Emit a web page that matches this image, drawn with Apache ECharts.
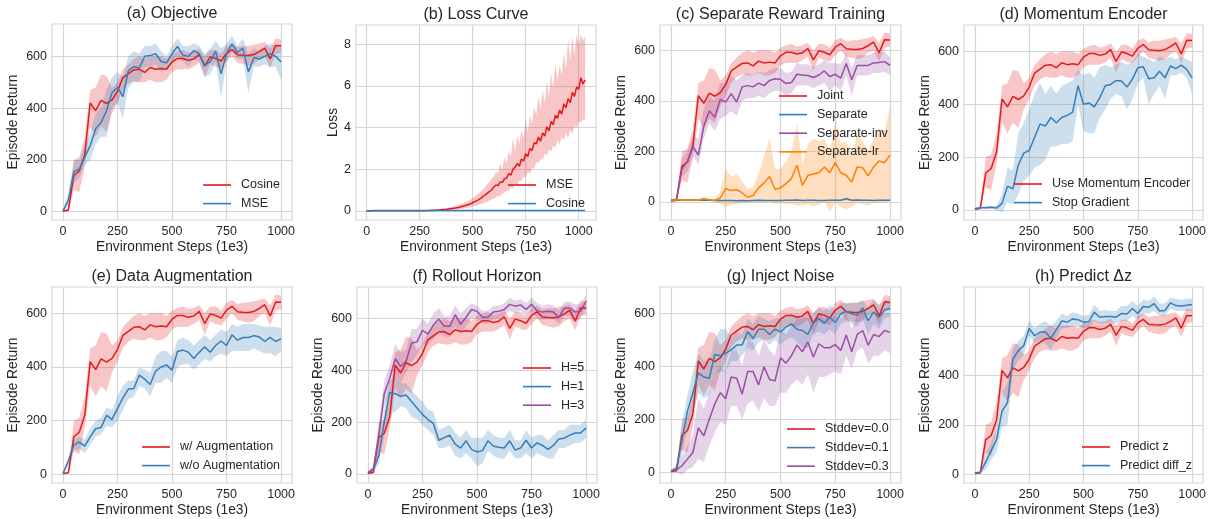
<!DOCTYPE html>
<html>
<head>
<meta charset="utf-8">
<script src="https://cdn.jsdelivr.net/npm/echarts@6/dist/echarts.min.js"></script>
<style>
html, body { margin: 0; padding: 0; background: #fff; }
#container { width: 1214px; height: 519px; }
</style>
</head>
<body>
<div id="container"></div>
<script>
// x positions (environment steps, 1e3)
var steps = [0,25,50,75,100,125,150,175,200,225,250,275,300,325,350,375,400,425,450,475,500,
             525,550,575,600,625,650,675,700,725,750,775,800,825,850,875,900,925,950,975,1000];
var stepTicks = [0, 250, 500, 750, 1000];
var returnTicks = [0, 200, 400, 600];
var lossTicks = [0, 2, 4, 6, 8];

// the main method (red), reused in every return panel
var joint   = [3,6,140,157,220,420,390,430,418,432,465,518,533,548,550,538,557,550,553,550,578,592,592,585,590,607,562,598,592,582,612,626,606,604,603,607,618,632,590,642,641];
var jointLo = [0,2,85,75,175,330,290,330,310,380,420,470,495,505,500,500,510,500,500,510,540,550,550,550,560,575,520,570,560,555,580,600,575,570,565,570,590,600,555,610,615];
var jointHi = [6,12,200,210,290,470,480,530,525,480,500,550,570,590,600,590,600,600,600,590,610,620,625,615,620,630,600,625,625,610,640,650,635,640,640,645,650,655,630,670,665];

// (a) MSE objective
var mseRet   = [3,45,155,165,210,255,320,345,390,460,480,445,545,560,555,600,603,610,580,575,610,638,605,600,622,610,565,580,620,533,610,648,615,632,540,595,590,600,610,600,578];
var mseRetLo = [0,20,110,130,180,200,260,290,290,400,420,360,480,500,500,560,560,570,540,550,580,600,580,560,590,580,520,530,580,440,580,620,590,590,460,560,560,570,560,560,510];
var mseRetHi = [6,70,200,200,260,300,380,400,470,520,540,520,600,620,610,640,640,650,620,600,640,670,640,640,650,640,610,630,660,630,650,680,640,670,610,630,620,640,650,640,640];

// (b) loss curves
var lossX = [0,20,40,60,80,100,120,140,160,180,200,220,240,260,280,300,320,340,360,380,400,
             410,420,430,440,450,460,470,480,490,500,510,520,530,540,550,560,570,580,590,600,
             610,620,630,640,650,660,670,680,690,700,710,720,730,740,750,760,770,780,790,800,
             810,820,830,840,850,860,870,880,890,900,910,920,930,940,950,960,970,980,990,1000,
             1010,1020,1030];
var mseLoss = [0,0,0.01,0.01,0.01,0.01,0.01,0.01,0.01,0.01,0.01,0.01,0.02,0.02,0.02,0.03,0.04,0.05,0.07,0.09,0.12,
               0.13,0.15,0.17,0.19,0.22,0.25,0.28,0.31,0.35,0.40,0.45,0.50,0.56,0.62,0.72,0.78,0.86,0.95,1.02,1.15,
               1.25,1.22,1.4,1.38,1.55,1.58,1.8,1.72,2.0,2.1,2.28,2.15,2.5,2.4,2.75,2.62,3.0,2.9,3.28,3.22,
               3.55,3.35,3.75,3.6,4.05,3.85,4.3,4.15,4.6,4.45,4.85,4.65,5.15,4.95,5.4,5.2,5.7,5.5,5.95,5.85,
               6.4,6.1,6.3];
var mseLossLo = [0,0,0,0,0,0,0,0,0,0,0,0,0.01,0.01,0.01,0.01,0.02,0.02,0.03,0.04,0.05,
                 0.06,0.07,0.08,0.1,0.11,0.13,0.15,0.17,0.19,0.22,0.24,0.27,0.3,0.34,0.37,0.41,0.45,0.5,0.55,0.6,
                 0.65,0.72,0.74,0.85,0.88,0.98,0.96,1.12,1.1,1.3,1.3,1.45,1.45,1.65,1.62,1.88,1.8,2.05,2.05,2.35,
                 2.3,2.5,2.45,2.75,2.65,2.95,2.85,3.15,3.05,3.4,3.2,3.55,3.4,3.75,3.5,3.9,3.7,4.1,3.95,4.3,
                 4.25,4.4,4.4];
var mseLossHi = [0,0,0.01,0.02,0.02,0.02,0.02,0.02,0.02,0.02,0.02,0.03,0.03,0.04,0.05,0.06,0.07,0.09,0.12,0.15,0.2,
                 0.22,0.25,0.28,0.32,0.36,0.4,0.45,0.5,0.56,0.62,0.7,0.78,0.85,0.95,1.05,1.15,1.3,1.4,1.55,1.65,
                 1.9,1.8,2.3,2.0,2.6,2.3,2.9,2.6,3.5,2.9,3.6,3.2,3.9,3.5,4.4,3.8,4.6,4.2,5.0,4.6,
                 5.5,4.9,5.8,5.2,6.2,5.5,6.6,5.9,7.1,6.3,7.0,6.5,7.6,6.8,8.3,7.2,8.4,7.5,8.5,8.0,
                 8.5,8.2,8.4];
var cosLossX = [0,30,60,100,200,300,400,500,600,700,800,900,1000,1030];
var cosLoss  = [0,0.03,0.03,0.03,0.03,0.03,0.03,0.03,0.03,0.03,0.03,0.03,0.03,0.03];

// (c) separate reward training
var sep     = [5,6,7,7,7,6,7,6,5,5,5,5,4,5,4,5,6,5,5,5,5,6,6,7,5,6,6,5,5,6,6,6,12,6,7,6,6,5,6,6,6];
var sepLo   = [3,4,4,4,4,3,4,3,3,3,3,3,2,3,2,3,4,3,3,3,3,4,4,4,3,4,4,3,3,4,4,4,6,4,4,4,4,3,4,4,4];
var sepHi   = [7,8,9,9,9,8,9,8,7,7,7,7,6,7,6,7,8,7,7,7,7,8,8,9,7,8,8,7,7,8,8,8,18,8,9,8,8,7,8,8,8];
var sepInv   = [5,10,130,160,218,185,300,360,335,405,395,428,395,455,460,455,470,460,480,487,485,468,472,505,502,500,492,502,518,496,505,490,548,483,540,540,540,550,552,555,540];
var sepInvLo = [0,5,100,120,180,150,250,310,280,330,340,360,340,400,410,410,420,410,430,440,440,420,430,460,460,460,450,460,470,440,460,440,500,420,500,500,500,510,510,515,500];
var sepInvHi = [8,15,170,200,260,250,370,420,400,470,470,500,480,500,510,500,515,510,520,530,530,510,515,550,545,545,535,545,560,550,550,545,590,530,580,580,580,590,590,595,570];
var sepLr   = [5,8,8,7,7,6,12,8,5,15,52,45,48,35,18,25,55,75,100,50,55,72,92,145,65,105,110,115,138,115,155,115,105,78,138,135,103,138,162,155,185];
var sepLrLo = [3,5,5,4,4,3,5,4,0,-10,-20,-12,-10,-5,-5,-3,-5,-5,0,-10,-5,-10,-10,-15,-15,-10,-20,-10,0,-40,-5,-20,-30,-20,-5,-10,-15,-5,-5,-5,0];
var sepLrHi = [7,12,12,10,10,10,20,12,10,40,130,100,110,80,50,60,110,180,250,130,130,160,200,310,150,230,250,240,250,200,320,230,240,180,270,240,200,250,290,280,375];

// (d) stop gradient
var stopGrad   = [5,8,8,10,7,25,90,80,170,215,225,275,325,318,350,330,350,358,370,470,400,405,390,425,470,475,490,488,465,495,538,542,497,500,525,500,545,535,548,532,500];
var stopGradLo = [0,3,3,5,0,-10,30,20,60,110,130,160,170,190,240,240,250,250,260,400,300,290,290,350,380,420,440,430,380,420,480,500,400,440,470,420,510,510,520,500,440];
var stopGradHi = [10,13,13,15,15,60,160,150,290,330,380,440,480,440,470,440,470,480,490,530,510,520,500,540,550,540,550,560,550,560,590,580,570,560,580,570,580,570,580,570,560];

// (e) without augmentation
var noAug   = [3,50,110,120,105,140,170,175,220,205,245,285,318,320,370,355,335,385,400,408,388,458,463,455,432,455,475,455,480,497,480,520,500,510,510,517,512,495,510,495,505];
var noAugLo = [0,35,90,95,80,110,140,150,180,175,200,240,280,290,330,320,290,340,340,360,340,400,410,410,390,410,430,420,440,450,440,460,460,460,460,470,460,450,450,440,460];
var noAugHi = [6,65,130,140,130,170,200,210,250,240,290,330,350,350,400,390,380,440,460,460,440,500,510,500,480,500,520,500,520,540,530,560,550,560,560,560,555,550,550,550,545];

// (f) rollout horizon
var h1   = [5,15,70,200,315,310,300,305,280,255,230,210,195,130,140,150,115,100,128,95,85,90,128,108,103,100,128,92,100,130,100,120,110,95,110,135,138,150,158,158,178];
var h1Lo = [0,8,40,150,230,240,260,255,220,210,190,170,150,100,100,110,70,60,80,60,30,40,90,70,60,60,90,60,60,80,60,80,70,60,60,100,100,110,120,120,140];
var h1Hi = [10,25,100,250,360,380,350,350,320,300,280,250,240,170,180,190,160,140,170,140,140,140,170,150,140,140,170,130,130,170,140,150,150,130,150,170,170,190,190,190,210];
var h3   = [5,20,150,310,370,445,415,435,505,510,555,540,575,598,570,570,615,578,605,635,628,605,605,625,628,635,655,648,653,635,655,630,625,628,625,605,640,640,625,628,668];
var h3Lo = [0,10,110,260,310,380,350,390,430,460,500,500,520,550,530,530,570,540,570,600,600,580,580,600,600,610,630,620,630,610,630,600,595,600,600,580,610,610,590,600,640];
var h3Hi = [10,30,190,360,420,500,470,480,560,560,600,580,620,640,610,610,650,620,640,660,650,630,630,650,650,660,680,670,675,660,680,660,650,655,650,630,665,665,655,655,690];

// (g) injected noise
var noise1   = [5,15,120,230,300,375,360,355,445,440,450,462,480,480,530,505,540,540,520,540,530,548,560,540,535,520,565,580,562,585,565,598,608,598,592,620,572,605,585,612,618];
var noise1Lo = [0,5,60,170,230,300,280,290,370,380,380,420,420,440,470,460,490,500,480,500,480,500,510,490,470,470,520,530,520,540,520,560,570,560,550,580,520,560,540,580,590];
var noise1Hi = [10,25,180,290,380,450,420,420,500,540,540,510,530,520,580,560,590,580,570,580,580,590,600,590,590,580,600,620,610,630,610,640,640,640,640,650,620,650,630,650,650];
var noise3   = [5,10,25,50,75,168,138,200,258,300,278,360,355,295,380,380,330,398,350,345,432,412,440,480,455,492,435,485,470,470,482,460,518,455,520,535,480,520,512,535,528];
var noise3Lo = [0,0,-10,10,20,50,40,100,150,190,180,250,250,200,260,270,230,280,250,250,300,300,330,350,330,370,300,360,360,370,380,370,440,390,460,470,410,440,440,460,450];
var noise3Hi = [10,20,60,100,140,280,240,300,370,400,380,460,460,400,500,490,440,500,460,440,540,520,550,580,580,600,570,600,580,580,590,580,600,540,600,610,570,600,590,600,600];

// (h) predict diff_z
var diffZ   = [5,8,50,95,140,255,290,465,500,520,590,560,575,575,550,585,620,615,628,625,615,618,655,635,638,638,635,650,648,670,650,678,675,690,660,662,693,682,680,683,686];
var diffZLo = [0,4,20,60,90,190,200,420,460,480,560,530,540,530,500,550,590,590,600,600,590,590,620,610,610,615,610,620,620,640,625,650,650,660,640,640,670,660,660,660,660];
var diffZHi = [10,12,80,130,180,330,370,510,540,560,620,590,610,620,600,620,650,640,655,650,640,645,685,660,665,660,660,680,680,700,680,705,700,720,690,690,715,710,705,710,710];

var RED = '#e41a1c', BLUE = '#377eb8', PURPLE = '#984ea3', ORANGE = '#ff7f00';
var FONT = '"Liberation Sans", Arial, sans-serif';
var TXT = '#262626';
var LINEC = '#d6d6d6';

var grids = [], xAxes = [], yAxes = [], titles = [], legends = [], series = [];

function pts(xs, ys) {
    return xs.map(function (x, i) { return [x, ys[i]]; });
}

function plainLabel(v) {
    return String(v);
}

function addPanel(k, title, box, xmax, yrange, yticks, yname, ynameGap) {
    grids.push({ left: box[0], top: box[1], width: box[2], height: box[3], show: true,
        borderColor: LINEC, borderWidth: 1.2, backgroundColor: '#fff' });
    titles.push({ text: title, left: box[0] + box[2] / 2, top: box[1] - 18, textAlign: 'center', padding: 0,
        textStyle: { fontFamily: FONT, fontSize: 16, fontWeight: 'normal', color: TXT } });
    xAxes.push({
        gridIndex: k, type: 'value', min: -50, max: xmax,
        axisLine: { show: false },
        axisTick: { show: false, customValues: stepTicks },
        axisLabel: { customValues: stepTicks, formatter: plainLabel, margin: 5, fontFamily: FONT, fontSize: 12.5, color: TXT },
        splitLine: { show: true, lineStyle: { color: LINEC, width: 1.2 } },
        name: 'Environment Steps (1e3)', nameLocation: 'middle', nameGap: 20,
        nameTextStyle: { fontFamily: FONT, fontSize: 13.75, color: TXT }
    });
    yAxes.push({
        gridIndex: k, type: 'value', min: yrange[0], max: yrange[1],
        axisLine: { show: false },
        axisTick: { show: false, customValues: yticks },
        axisLabel: { customValues: yticks, formatter: plainLabel, margin: 5, fontFamily: FONT, fontSize: 12.5, color: TXT },
        splitLine: { show: true, lineStyle: { color: LINEC, width: 1.2 } },
        name: yname, nameLocation: 'middle', nameGap: ynameGap,
        nameTextStyle: { fontFamily: FONT, fontSize: 13.75, color: TXT }
    });
}

// shaded spread between lo and hi, drawn as one polygon through the axes
function band(k, xs, lo, hi, color) {
    series.push({
        type: 'custom', xAxisIndex: k, yAxisIndex: k, silent: true, z: 2, clip: true,
        data: xs.map(function (x, i) { return [x, lo[i], hi[i]]; }),
        encode: { x: 0, y: [1, 2] },
        renderItem: function (params, api) {
            if (params.dataIndex !== 0) return null;
            var upper = [], lower = [];
            for (var i = 0; i < xs.length; i++) {
                upper.push(api.coord([xs[i], hi[i]]));
                lower.push(api.coord([xs[i], lo[i]]));
            }
            return {
                type: 'polygon',
                shape: { points: upper.concat(lower.reverse()) },
                style: { fill: color, opacity: 0.25 }
            };
        }
    });
}

function line(k, name, xs, ys, color) {
    series.push({ type: 'line', name: name, xAxisIndex: k, yAxisIndex: k, data: pts(xs, ys),
        symbol: 'none', lineStyle: { color: color, width: 1.5 }, itemStyle: { color: color }, z: 3 });
}

function addLegend(left, top, items) {
    legends.push({
        left: left, top: top, orient: 'vertical', padding: 0,
        icon: 'rect', itemWidth: 28, itemHeight: 1.6, itemGap: 4.6,
        textStyle: { fontFamily: FONT, fontSize: 12.5, lineHeight: 14, color: TXT, padding: [0, 0, 0, 5] },
        data: items.map(function (it) {
            return { name: it[0], itemStyle: { color: it[1], borderWidth: 0 } };
        })
    });
}

// (a)
addPanel(0, '(a) Objective', [52, 24, 240, 196], 1050, [-32, 725], returnTicks, 'Episode Return', 32);
band(0, steps, jointLo, jointHi, RED);
band(0, steps, mseRetLo, mseRetHi, BLUE);
line(0, 'Cosine', steps, joint, RED);
line(0, 'MSE', steps, mseRet, BLUE);
addLegend(203, 178, [['Cosine', RED], ['MSE', BLUE]]);

// (b)
addPanel(1, '(b) Loss Curve', [356, 25, 240, 195], 1081.5, [-0.43, 8.93], lossTicks, 'Loss', 16);
band(1, lossX, mseLossLo, mseLossHi, RED);
line(1, 'MSE', lossX, mseLoss, RED);
line(1, 'Cosine', cosLossX, cosLoss, BLUE);
addLegend(508, 178, [['MSE', RED], ['Cosine', BLUE]]);

// (c)
addPanel(2, '(c) Separate Reward Training', [660, 25, 241, 195], 1050, [-72, 700], returnTicks, 'Episode Return', 32);
band(2, steps, jointLo, jointHi, RED);
band(2, steps, sepLo, sepHi, BLUE);
band(2, steps, sepInvLo, sepInvHi, PURPLE);
band(2, steps, sepLrLo, sepLrHi, ORANGE);
line(2, 'Joint', steps, joint, RED);
line(2, 'Separate', steps, sep, BLUE);
line(2, 'Separate-inv', steps, sepInv, PURPLE);
line(2, 'Separate-lr', steps, sepLr, ORANGE);
addLegend(779, 89, [['Joint', RED], ['Separate', BLUE], ['Separate-inv', PURPLE], ['Separate-lr', ORANGE]]);

// (d)
addPanel(3, '(d) Momentum Encoder', [964, 25, 239, 195], 1050, [-38, 700], returnTicks, 'Episode Return', 32);
band(3, steps, jointLo, jointHi, RED);
band(3, steps, stopGradLo, stopGradHi, BLUE);
line(3, 'Use Momentum Encoder', steps, joint, RED);
line(3, 'Stop Gradient', steps, stopGrad, BLUE);
addLegend(1014, 177, [['Use Momentum Encoder', RED], ['Stop Gradient', BLUE]]);

// (e)
addPanel(4, '(e) Data Augmentation', [52, 287, 240, 196], 1050, [-32, 698], returnTicks, 'Episode Return', 32);
band(4, steps, jointLo, jointHi, RED);
band(4, steps, noAugLo, noAugHi, BLUE);
line(4, 'w/ Augmentation', steps, joint, RED);
line(4, 'w/o Augmentation', steps, noAug, BLUE);
addLegend(142, 440, [['w/ Augmentation', RED], ['w/o Augmentation', BLUE]]);

// (f)
addPanel(5, '(f) Rollout Horizon', [357, 287, 240, 196], 1050, [-35, 722], returnTicks, 'Episode Return', 32);
band(5, steps, jointLo, jointHi, RED);
band(5, steps, h1Lo, h1Hi, BLUE);
band(5, steps, h3Lo, h3Hi, PURPLE);
line(5, 'H=5', steps, joint, RED);
line(5, 'H=1', steps, h1, BLUE);
line(5, 'H=3', steps, h3, PURPLE);
addLegend(523, 361, [['H=5', RED], ['H=1', BLUE], ['H=3', PURPLE]]);

// (g)
addPanel(6, '(g) Inject Noise', [660, 287, 241, 196], 1050, [-40, 699], returnTicks, 'Episode Return', 32);
band(6, steps, jointLo, jointHi, RED);
band(6, steps, noise1Lo, noise1Hi, BLUE);
band(6, steps, noise3Lo, noise3Hi, PURPLE);
line(6, 'Stddev=0.0', steps, joint, RED);
line(6, 'Stddev=0.1', steps, noise1, BLUE);
line(6, 'Stddev=0.3', steps, noise3, PURPLE);
addLegend(787, 422, [['Stddev=0.0', RED], ['Stddev=0.1', BLUE], ['Stddev=0.3', PURPLE]]);

// (h)
addPanel(7, '(h) Predict \u0394z', [964, 287, 239, 196], 1050, [-35, 757], returnTicks, 'Episode Return', 32);
band(7, steps, jointLo, jointHi, RED);
band(7, steps, diffZLo, diffZHi, BLUE);
line(7, 'Predict z', steps, joint, RED);
line(7, 'Predict diff_z', steps, diffZ, BLUE);
addLegend(1082, 440, [['Predict z', RED], ['Predict diff_z', BLUE]]);

var myChart = echarts.init(document.getElementById('container'));
myChart.setOption({
    backgroundColor: '#fff',
    animation: false,
    title: titles,
    legend: legends,
    grid: grids,
    xAxis: xAxes,
    yAxis: yAxes,
    series: series
});
</script>
</body>
</html>
